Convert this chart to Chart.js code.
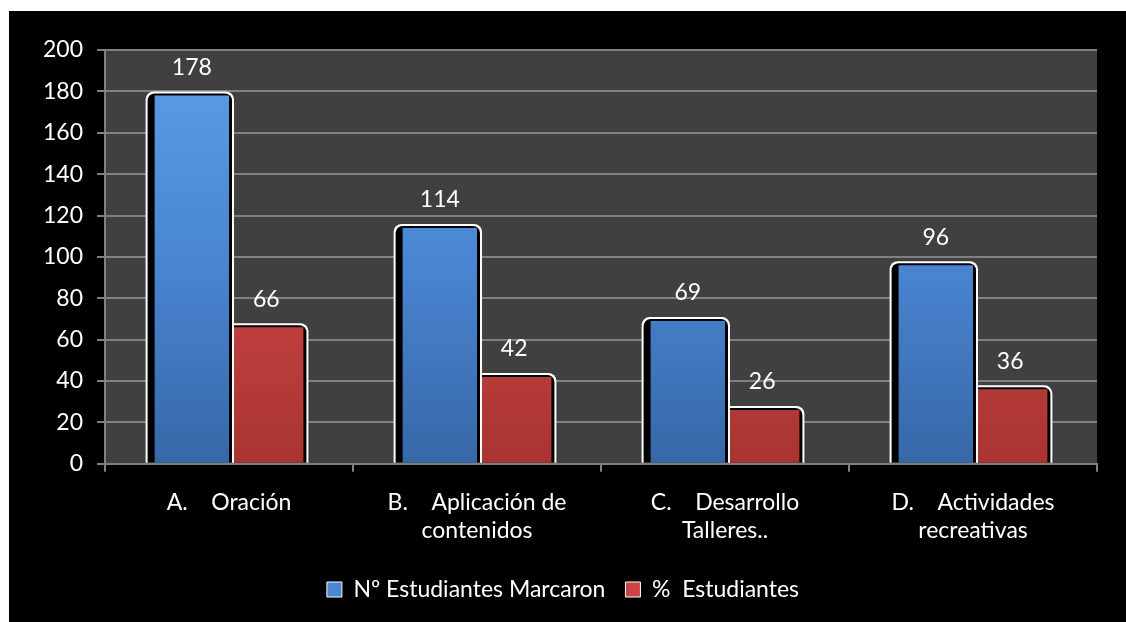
<!DOCTYPE html>
<html>
<head>
<meta charset="utf-8">
<script src="https://cdn.jsdelivr.net/npm/chart.js@4/dist/chart.umd.min.js"></script>
<style>
  html, body { margin: 0; padding: 0; background: #fff; }
  #box { position: absolute; left: 9px; top: 11px; width: 1117px; height: 611px; background: #000; }
</style>
</head>
<body>
<div id="box"><canvas id="chart" width="1117" height="611"></canvas></div>
<script>
// Data
const categories = [
  ["A.    Oración"],
  ["B.    Aplicación de", "contenidos"],
  ["C.    Desarrollo", "Talleres.."],
  ["D.    Actividades", "recreativas"],
];
const seriesNames = ["Nº Estudiantes Marcaron", "%  Estudiantes"];
const estudiantes = [178, 114, 69, 96];
const porcentaje = [66, 42, 26, 36];
const yTicks = [0, 20, 40, 60, 80, 100, 120, 140, 160, 180, 200];

const FONT = "Lato, 'Open Sans', sans-serif";
const FSIZE = 23;

// vertical gradient for each bar
function barGradient(context, top, mid, bottom) {
  const chart = context.chart;
  const area = chart.chartArea;
  if (!area) return mid;
  const g = chart.ctx.createLinearGradient(0, area.top, 0, area.bottom);
  g.addColorStop(0, top);
  g.addColorStop(0.5, mid);
  g.addColorStop(1, bottom);
  return g;
}

// dark plot background
const plotBackground = {
  id: "plotBackground",
  beforeDraw(chart) {
    const { ctx, chartArea: a } = chart;
    ctx.save();
    ctx.fillStyle = "#404040";
    ctx.fillRect(a.left, a.top, a.right - a.left, a.bottom - a.top);
    ctx.restore();
  },
};

// white outline + black shadow frame behind each bar
const barFrame = {
  id: "barFrame",
  beforeDatasetDraw(chart, args) {
    const ctx = chart.ctx;
    ctx.save();
    args.meta.data.forEach((bar) => {
      const { x, y, width, base } = bar.getProps(["x", "y", "width", "base"], true);
      const l = x - width / 2 - 9, r = x + width / 2 + 5, t = y - 4;
      ctx.fillStyle = "#fff";
      ctx.beginPath();
      ctx.roundRect(l, t, r - l, base - t, [8, 8, 0, 0]);
      ctx.fill();
      ctx.fillStyle = "#000";
      ctx.beginPath();
      ctx.roundRect(l + 2, t + 2, r - l - 4, base - t - 2, [7, 7, 0, 0]);
      ctx.fill();
    });
    ctx.restore();
  },
};

// value labels above the bars
const valueLabels = {
  id: "valueLabels",
  afterDatasetsDraw(chart) {
    const ctx = chart.ctx;
    ctx.save();
    ctx.fillStyle = "#fff";
    ctx.font = FSIZE + "px " + FONT;
    ctx.textAlign = "center";
    ctx.textBaseline = "middle";
    chart.data.datasets.forEach((ds, i) => {
      chart.getDatasetMeta(i).data.forEach((bar, j) => {
        ctx.fillText(ds.data[j], bar.x, bar.y - 28);
      });
    });
    ctx.restore();
  },
};

const ctx = document.getElementById("chart").getContext("2d");

const chart = new Chart(ctx, {
  type: "bar",
  data: {
    labels: categories,
    datasets: [
      {
        label: seriesNames[0],
        data: estudiantes,
        backgroundColor: (c) => barGradient(c, "#5d9de6", "#4a86d2", "#3767a8"),
        borderWidth: 0,
        categoryPercentage: 0.6,
        barPercentage: 1,
      },
      {
        label: seriesNames[1],
        data: porcentaje,
        backgroundColor: (c) => barGradient(c, "#de5a58", "#c94442", "#a83432"),
        borderWidth: 0,
        categoryPercentage: 0.6,
        barPercentage: 1,
      },
    ],
  },
  options: {
    responsive: false,
    animation: false,
    layout: { padding: { top: 39, right: 29, left: 20, bottom: 11 } },
    scales: {
      x: {
        afterFit: (axis) => { axis.height -= 3; },
        grid: {
          offset: true,
          drawOnChartArea: false,
          drawTicks: true,
          tickLength: 8,
          color: "#808080",
          lineWidth: 2,
        },
        border: { color: "#808080", width: 2 },
        ticks: { color: "#fff", font: { family: FONT, size: FSIZE }, padding: 17, maxRotation: 0 },
      },
      y: {
        min: 0,
        max: 200,
        afterBuildTicks: (axis) => { axis.ticks = yTicks.map((v) => ({ value: v })); },
        grid: { color: "#808080", lineWidth: 2, tickLength: 8 },
        border: { color: "#808080", width: 2 },
        ticks: { color: "#fff", font: { family: FONT, size: FSIZE }, padding: 14 },
      },
    },
    plugins: {
      legend: {
        position: "bottom",
        labels: {
          color: "#fff",
          font: { family: FONT, size: FSIZE },
          boxWidth: 15,
          boxHeight: 15,
          padding: 20,
          generateLabels: (chart) =>
            chart.data.datasets.map((ds, i) => ({
              text: ds.label,
              fillStyle: i === 0 ? "#4a86d2" : "#c94442",
              strokeStyle: "#fff",
              lineWidth: 1,
              fontColor: "#fff",
              datasetIndex: i,
            })),
        },
      },
      tooltip: { enabled: false },
    },
  },
  plugins: [plotBackground, barFrame, valueLabels],
});
</script>
</body>
</html>
